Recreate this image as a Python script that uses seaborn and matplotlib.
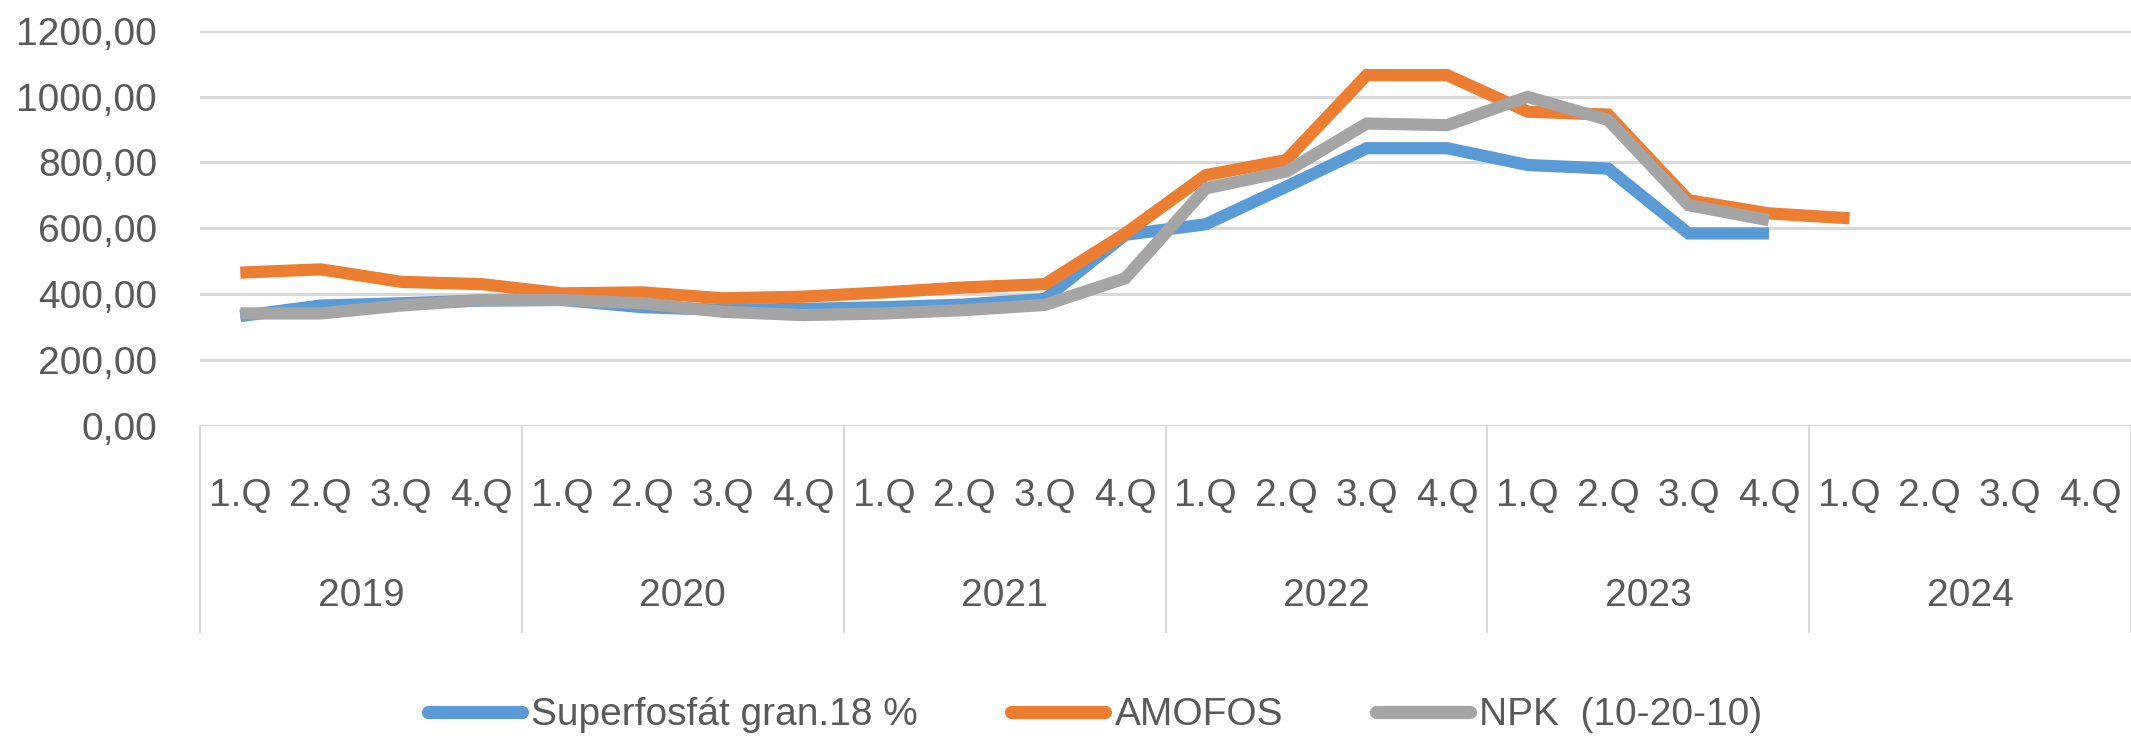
import numpy as np
import pandas as pd
import seaborn as sb
import matplotlib.pyplot as plt
import matplotlib.transforms as mtransforms

# quarterly prices 2019 - 2024
years = ["2019", "2020", "2021", "2022", "2023", "2024"]
quarters = ["1.Q", "2.Q", "3.Q", "4.Q"]
nan = np.nan

superfosfat = [333, 365, 372, 380, 382, 360, 352, 355, 360, 368, 385, 580,
               612, 726, 843, 843, 792, 781, 584, 584, nan, nan, nan, nan]
amofos = [465, 475, 437, 430, 402, 405, 387, 392, 405, 420, 430, 584,
          761, 807, 1065, 1065, 954, 945, 685, 645, 630, nan, nan, nan]
npk = [341, 341, 365, 382, 382, 372, 346, 336, 341, 351, 367, 448,
       721, 772, 918, 913, 999, 929, 670, 624, nan, nan, nan, nan]

series_names = ["Superfosfát gran.18 %", "AMOFOS", "NPK  (10-20-10)"]
colors = ["#5B9BD5", "#ED7D31", "#A5A5A5"]

n = len(years) * len(quarters)
df = pd.DataFrame({
    "idx": list(range(n)) * 3,
    "value": superfosfat + amofos + npk,
    "series": [series_names[0]] * n + [series_names[1]] * n + [series_names[2]] * n,
})

sb.set_style("white")
plt.rcParams['font.family'] = ['Liberation Sans', 'DejaVu Sans']
txt = "#595959"
fs = 28

fig = plt.figure(figsize=(21.31, 7.36), dpi=100)
ax = fig.add_axes([0.0939, 0.4216, 0.9061, 0.5367])

sb.lineplot(data=df, x="idx", y="value", hue="series", hue_order=series_names,
            palette=colors, linewidth=8.8, ax=ax, legend=True)
for ln in ax.get_lines():
    ln.set_solid_capstyle("butt")
    ln.set_solid_joinstyle("miter")

ax.set_xlim(-0.5, n - 0.5)
ax.set_ylim(0, 1200)
ax.set_yticks(range(0, 1201, 200))
ax.set_yticklabels([f"{v},00" for v in range(0, 1201, 200)], fontsize=fs, color=txt)
ax.tick_params(axis="y", length=0, pad=31)
ax.set_xticks([])
ax.set_xlabel("")
ax.set_ylabel("")
ax.yaxis.grid(True, color="#D9D9D9", linewidth=2.2)
ax.set_axisbelow(True)
for s in ax.spines.values():
    s.set_visible(False)

# multi-level category axis
trans = mtransforms.blended_transform_factory(ax.transData, ax.transAxes)
for i in range(n):
    ax.text(i, -0.177, quarters[i % 4], transform=trans, ha="center", va="center",
            fontsize=fs, color=txt)
for j, yr in enumerate(years):
    ax.text(j * 4 + 1.5, -0.432, yr, transform=trans, ha="center", va="center",
            fontsize=fs, color=txt)
for j in range(len(years) + 1):
    ax.plot([j * 4 - 0.5, j * 4 - 0.5], [0, -0.523], transform=trans,
            color="#D9D9D9", linewidth=1.5, clip_on=False)

handles, labels = ax.get_legend_handles_labels()
ax.get_legend().remove()
leg = fig.legend(handles, labels, loc="center", bbox_to_anchor=(0.514, 0.028),
                 ncol=3, frameon=False, fontsize=fs, handlelength=2.4,
                 handletextpad=0.25, columnspacing=2.4)
for t in leg.get_texts():
    t.set_color(txt)
for h in leg.legend_handles:
    h.set_linewidth(9.5)
    h.set_solid_capstyle("round")

plt.savefig("out.png", dpi=100)
